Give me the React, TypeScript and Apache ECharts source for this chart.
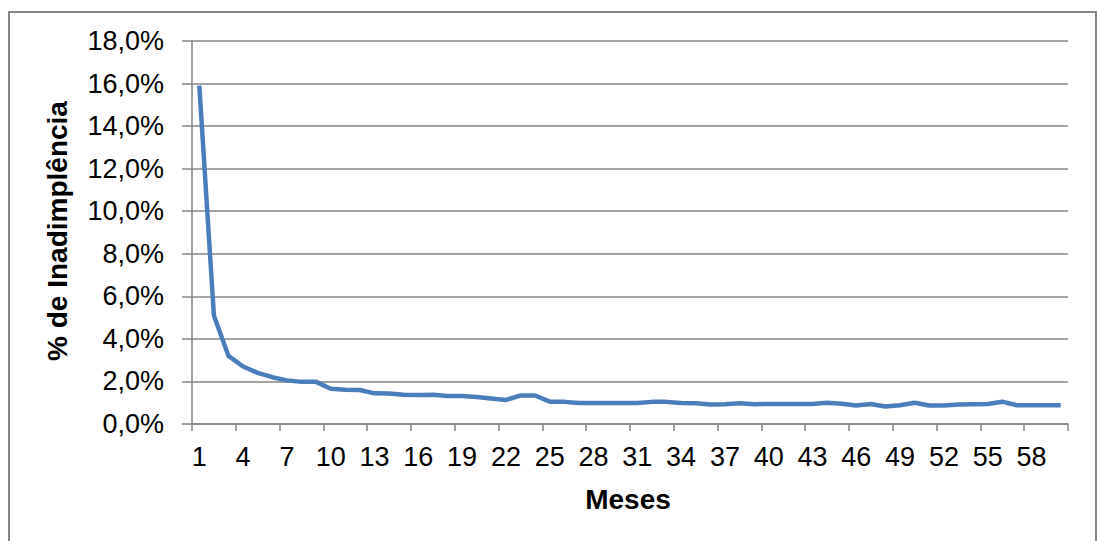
import React, { useEffect, useRef } from "react";
import * as echarts from "echarts";

const months: string[] = Array.from({ length: 60 }, (_, i) => String(i + 1));

const defaultRate: number[] = [
  15.9, 5.1, 3.2, 2.7, 2.4, 2.2, 2.05, 1.98, 1.98, 1.66,
  1.61, 1.6, 1.44, 1.43, 1.37, 1.36, 1.38, 1.32, 1.32, 1.27,
  1.2, 1.13, 1.34, 1.34, 1.05, 1.04, 0.99, 0.99, 0.99, 0.99,
  0.99, 1.04, 1.04, 0.99, 0.97, 0.92, 0.93, 0.98, 0.93, 0.94,
  0.94, 0.94, 0.94, 1.0, 0.95, 0.87, 0.94, 0.82, 0.88, 1.0,
  0.87, 0.87, 0.92, 0.93, 0.94, 1.05, 0.88, 0.88, 0.88, 0.88,
];

const xTitle = "Meses";
const yTitle = "% de Inadimplência";

const FONT = "'Liberation Sans', Arial, sans-serif";

export default function App() {
  const ref = useRef<HTMLDivElement>(null);

  useEffect(() => {
    if (!ref.current) return;
    const chart = echarts.init(ref.current, null, { renderer: "svg" });
    chart.setOption({
      animation: false,
      backgroundColor: "#ffffff",
      grid: { left: 192, right: 29, top: 41, bottom: 117, containLabel: false },
      graphic: [
        {
          type: "rect",
          shape: { x: 9, y: 12, width: 1087, height: 540 },
          style: { fill: "none", stroke: "#868686", lineWidth: 2 },
          silent: true,
        },
        {
          type: "text",
          x: 628,
          y: 499,
          style: {
            text: xTitle,
            font: `bold 28px ${FONT}`,
            fill: "#000",
            align: "center",
            verticalAlign: "middle",
          },
        },
        {
          type: "text",
          x: 57,
          y: 231,
          rotation: Math.PI / 2,
          style: {
            text: yTitle,
            font: `bold 28px ${FONT}`,
            fill: "#000",
            align: "center",
            verticalAlign: "middle",
          },
        },
      ],
      xAxis: {
        type: "category",
        data: months,
        boundaryGap: true,
        axisLine: { show: true, lineStyle: { color: "#868686", width: 1.5 } },
        axisTick: { show: true, interval: 2, length: 7, lineStyle: { color: "#868686", width: 1.5 } },
        axisLabel: {
          interval: 2,
          margin: 19,
          color: "#000",
          fontSize: 27,
          fontFamily: FONT,
        },
        splitLine: { show: false },
      },
      yAxis: {
        type: "value",
        min: 0,
        max: 18,
        interval: 2,
        axisLine: { show: true, lineStyle: { color: "#868686", width: 1.5 } },
        axisTick: { show: true, length: 10, lineStyle: { color: "#868686", width: 1.5 } },
        axisLabel: {
          margin: 28,
          color: "#000",
          fontSize: 27,
          fontFamily: FONT,
          formatter: (v: number) => v.toFixed(1).replace(".", ",") + "%",
        },
        splitLine: { show: true, lineStyle: { color: "#868686", width: 1.5 } },
      },
      series: [
        {
          type: "line",
          data: defaultRate,
          showSymbol: false,
          symbol: "none",
          lineStyle: { color: "#4a7ebb", width: 4.5, join: "round" },
          itemStyle: { color: "#4a7ebb" },
        },
      ],
    });
    return () => chart.dispose();
  }, []);

  return (
    <div
      ref={ref}
      style={{ position: "absolute", left: 0, top: 0, width: 1097, height: 541 }}
    />
  );
}
